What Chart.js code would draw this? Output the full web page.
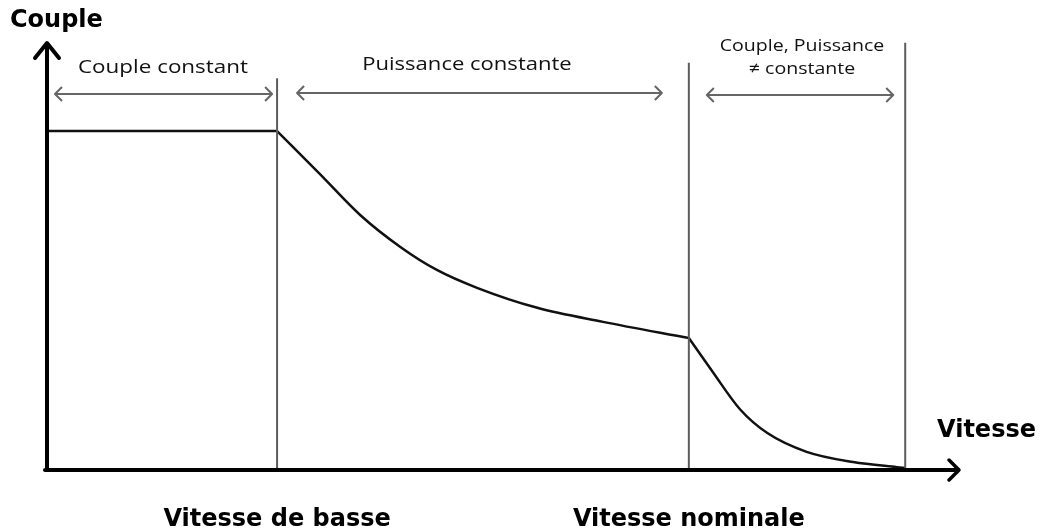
<!DOCTYPE html>
<html>
<head>
<meta charset="utf-8">
<script src="https://cdn.jsdelivr.net/npm/chart.js@4.4.1/dist/chart.umd.min.js"></script>
<style>
  html, body { margin: 0; padding: 0; background: #fff; }
  canvas { display: block; }
</style>
</head>
<body>
<canvas id="couple" width="1044" height="531"></canvas>
<script>
// vitesses caracteristiques (0..100 = axe des vitesses)
const speedMarks = [25.2, 70.3, 94.0];
const markTops = [91.5, 95.1, 99.8];
const markLabels = ["Vitesse de basse", "Vitesse nominale"];
const zoneLabels = ["Couple constant", "Puissance constante", ["Couple, Puissance", "\u2260 constante"]];

// couple constant
const flatX = [0, 25.2];
const flatY = [79.1, 79.1];
// puissance constante
const midX = [25.2, 29.9, 34.3, 38.7, 42.7, 47.1, 53.7, 60.9, 70.3];
const midY = [79.1, 69.0, 59.4, 51.9, 46.5, 42.3, 37.6, 34.3, 30.5];
// au-dela de la vitesse nominale
const endX = [70.3, 72.9, 75.9, 78.9, 83.2, 88.3, 93.1, 94.0];
const endY = [30.5, 22.6, 13.8, 8.2, 3.8, 1.4, 0.2, 0];

const pts = (xs, ys) => xs.map((x, i) => ({ x: x, y: ys[i] }));

const curveStyle = {
  borderColor: "#111",
  borderWidth: 2.5,
  pointRadius: 0,
  showLine: true,
  fill: false,
};

const markSets = speedMarks.map((m, i) => ({
  data: [{ x: m, y: 0 }, { x: m, y: markTops[i] }],
  borderColor: "#5c5c5c",
  borderWidth: 2,
  pointRadius: 0,
  showLine: true,
}));

function chevron(ctx, x, y, dir, size) {
  ctx.beginPath();
  ctx.moveTo(x - dir * size, y - size);
  ctx.lineTo(x, y);
  ctx.lineTo(x - dir * size, y + size);
  ctx.stroke();
}

// texte un peu etire en largeur, comme sur l'image d'origine
function wideText(ctx, txt, cx, y, sx) {
  ctx.save();
  ctx.translate(cx, y);
  ctx.scale(sx, 1);
  ctx.fillText(txt, 0, 0);
  ctx.restore();
}

const decor = {
  id: "decor",
  afterDraw(chart) {
    const ctx = chart.ctx;
    const xs = chart.scales.x;
    const ys = chart.scales.y;
    const x0 = xs.getPixelForValue(0);
    const y0 = ys.getPixelForValue(0);
    const m = speedMarks.map((v) => xs.getPixelForValue(v));
    ctx.save();

    // axes + fleches
    ctx.strokeStyle = "#000";
    ctx.lineWidth = 4;
    ctx.lineCap = "round";
    ctx.lineJoin = "round";
    ctx.beginPath();
    ctx.moveTo(x0, y0 + 2);
    ctx.lineTo(x0, 44);
    ctx.moveTo(x0 - 2, y0 + 2);
    ctx.lineTo(958, y0 + 2);
    ctx.stroke();
    ctx.beginPath();
    ctx.moveTo(x0 - 12, 58);
    ctx.lineTo(x0, 43);
    ctx.lineTo(x0 + 12, 58);
    ctx.stroke();
    ctx.lineWidth = 3.5;
    chevron(ctx, 959, y0 + 2, 1, 10);

    // doubles fleches des zones
    ctx.strokeStyle = "#666";
    ctx.lineWidth = 2;
    ctx.lineCap = "butt";
    const zones = [
      [x0 + 8, m[0] - 5, 94],
      [m[0] + 20, m[1] - 27, 93],
      [m[1] + 18, m[2] - 12, 95],
    ];
    zones.forEach(([a, b, y]) => {
      ctx.beginPath();
      ctx.moveTo(a, y);
      ctx.lineTo(b, y);
      ctx.stroke();
      chevron(ctx, a, y, -1, 7);
      chevron(ctx, b, y, 1, 7);
    });

    // textes des zones
    ctx.fillStyle = "#111";
    ctx.textAlign = "center";
    ctx.textBaseline = "alphabetic";
    ctx.font = "19px 'Open Sans'";
    wideText(ctx, zoneLabels[0], 163, 73, 1.18);
    wideText(ctx, zoneLabels[1], 467, 70, 1.16);
    ctx.font = "17px 'Open Sans'";
    wideText(ctx, zoneLabels[2][0], 802, 51, 1.15);
    wideText(ctx, zoneLabels[2][1], 802, 74, 1.15);

    // titres des axes
    ctx.fillStyle = "#000";
    ctx.font = "bold 24px 'DejaVu Sans'";
    ctx.textAlign = "left";
    ctx.fillText("Couple", 10, 27);
    ctx.fillText("Vitesse", 937, 437);
    ctx.textAlign = "center";
    ctx.fillText(markLabels[0], m[0], 526);
    ctx.fillText(markLabels[1], m[1], 526);
    ctx.restore();
  },
};

new Chart(document.getElementById("couple"), {
  type: "scatter",
  data: {
    datasets: [
      ...markSets,
      Object.assign({ data: pts(flatX, flatY) }, curveStyle),
      Object.assign({ data: pts(midX, midY), cubicInterpolationMode: "monotone" }, curveStyle),
      Object.assign({ data: pts(endX, endY), cubicInterpolationMode: "monotone" }, curveStyle),
    ],
  },
  options: {
    responsive: false,
    animation: false,
    layout: { padding: { left: 47, right: 84, top: 42, bottom: 63 } },
    plugins: { legend: { display: false }, tooltip: { enabled: false } },
    scales: {
      x: { type: "linear", min: 0, max: 100, display: false },
      y: { min: 0, max: 100, display: false },
    },
  },
  plugins: [decor],
});
</script>
</body>
</html>
